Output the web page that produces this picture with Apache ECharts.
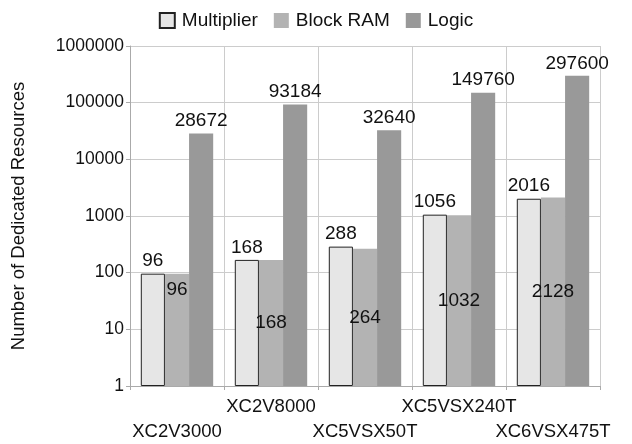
<!DOCTYPE html>
<html>
<head>
<meta charset="utf-8">
<script src="https://cdn.jsdelivr.net/npm/echarts@6/dist/echarts.min.js"></script>
<style>html,body{margin:0;padding:0;background:#fff}#c{width:632px;height:444px}</style>
</head>
<body>
<div id="c"></div>
<script>
const categories = ['XC2V3000', 'XC2V8000', 'XC5VSX50T', 'XC5VSX240T', 'XC6VSX475T'];
const multiplier = [96, 168, 288, 1056, 2016];
const blockRam = [96, 168, 264, 1032, 2128];
const logic = [28672, 93184, 32640, 149760, 297600];

const FONT = 'Liberation Sans, Arial, Helvetica, sans-serif';
const chart = echarts.init(document.getElementById('c'));
chart.setOption({
  animation: false,
  textStyle: { fontFamily: FONT, color: '#111' },
  legend: {
    top: 6, left: 'center', itemWidth: 15, itemHeight: 15, itemGap: 16, icon: 'rect',
    textStyle: { fontSize: 19, color: '#111', fontFamily: FONT, padding: [0, 0, 0, 2] },
    data: ['Multiplier', 'Block RAM', 'Logic']
  },
  grid: { left: 130, right: 32, top: 46, bottom: 56 },
  xAxis: {
    type: 'category', data: categories,
    axisLine: { lineStyle: { color: '#aaa' } },
    axisTick: { show: true, length: 4, lineStyle: { color: '#aaa' } },
    splitLine: { show: true, lineStyle: { color: '#ccc' } },
    axisLabel: {
      interval: 0, fontSize: 18.5, color: '#111', fontFamily: FONT, lineHeight: 25, margin: 8,
      formatter: (v, i) => (i % 2 === 0 ? '\n' + v : v)
    }
  },
  yAxis: {
    type: 'log', logBase: 10, min: 1, max: 1000000,
    name: 'Number of Dedicated Resources', nameLocation: 'middle', nameGap: 102, nameRotate: 90,
    nameTextStyle: { fontSize: 18.5, color: '#111', fontFamily: FONT },
    axisLine: { show: true, lineStyle: { color: '#aaa' } },
    axisTick: { show: true, length: 4, lineStyle: { color: '#aaa' } },
    splitLine: { show: true, lineStyle: { color: '#ccc' } },
    axisLabel: { fontSize: 17.5, color: '#111', fontFamily: FONT, margin: 6, formatter: v => String(v) }
  },
  series: [
    {
      name: 'Multiplier', type: 'bar', data: multiplier, barGap: '0%', barCategoryGap: '23%',
      itemStyle: { color: '#e6e6e6', borderColor: '#222', borderWidth: 1 },
      label: { show: true, position: 'top', fontSize: 19, color: '#111', fontFamily: FONT, distance: 3 }
    },
    {
      name: 'Block RAM', type: 'bar',
      data: blockRam.map((v, i) => i === 0 ? { value: v, label: { position: 'insideTop', distance: 7 } } : v),
      itemStyle: { color: '#b3b3b3' },
      label: { show: true, position: 'inside', fontSize: 19, color: '#111', fontFamily: FONT }
    },
    {
      name: 'Logic', type: 'bar', data: logic,
      itemStyle: { color: '#999999' },
      label: { show: true, position: 'top', fontSize: 19, color: '#111', fontFamily: FONT, distance: 3 }
    }
  ]
});
</script>
</body>
</html>
